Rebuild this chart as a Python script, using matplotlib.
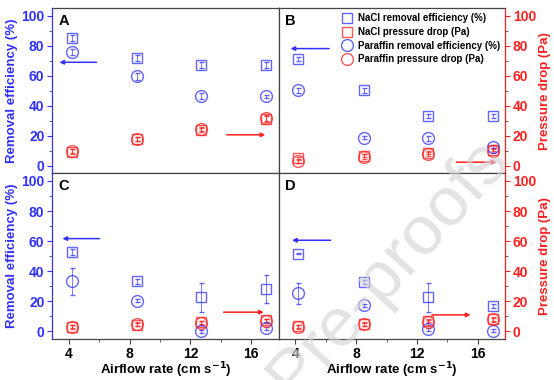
import matplotlib.pyplot as plt
from matplotlib.ticker import MultipleLocator
from matplotlib.lines import Line2D

plt.rcParams['font.family'] = ['Liberation Sans', 'DejaVu Sans']
plt.rcParams['font.weight'] = 'bold'

BLUE = '#3030ff'
RED = '#ff2020'

# airflow rate (cm s-1)
airflow = [4.2, 8.5, 12.7, 17.0]

# panel A
a_nacl_eff = [85, 71.8, 67, 67]
a_nacl_eff_err = [2, 2, 2, 2]
a_nacl_dp = [9.6, 17.8, 24, 31]
a_nacl_dp_err = [1.5, 1.5, 1.5, 2]
a_par_eff = [75.5, 59.5, 46.7, 46.2]
a_par_eff_err = [2, 2.5, 2, 1]
a_par_dp = [10, 18, 24.5, 32]
a_par_dp_err = [1.5, 1.5, 1.5, 2]

# panel B
b_nacl_eff = [71.1, 50.2, 33.3, 33.3]
b_nacl_eff_err = [1.5, 1.5, 1.5, 1.5]
b_nacl_dp = [5, 6.7, 8.9, 10.7]
b_nacl_dp_err = [1, 1, 1, 1]
b_par_eff = [50.2, 18.9, 18.4, 12.9]
b_par_eff_err = [1.5, 1, 1.5, 1]
b_par_dp = [3.3, 6.2, 7.8, 10]
b_par_dp_err = [1.5, 1.5, 1.5, 1.5]

# panel C
c_nacl_eff = [53.1, 33.2, 22.6, 28.1]
c_nacl_eff_err = [2, 1.5, 9.4, 9.4]
c_nacl_dp = [3.1, 4.6, 6, 7.5]
c_nacl_dp_err = [1, 1, 1, 1]
c_par_eff = [33.2, 20.3, 0.2, 2]
c_par_eff_err = [8.8, 1, 1, 1]
c_par_dp = [3, 4.8, 5.5, 7]
c_par_dp_err = [1.5, 1.5, 1.5, 1.5]

# panel D
d_nacl_eff = [51.8, 33, 22.6, 17]
d_nacl_eff_err = [0.5, 1.5, 9.5, 1.5]
d_nacl_dp = [3.3, 4.8, 7, 8.2]
d_nacl_dp_err = [1, 1, 1, 1]
d_par_eff = [25.4, 17.5, 1.5, 0.4]
d_par_eff_err = [7, 1, 1, 1]
d_par_dp = [3, 5, 6, 8]
d_par_dp_err = [1.5, 1.5, 1.5, 1.5]

panels = [
    ("A", a_nacl_eff, a_nacl_eff_err, a_nacl_dp, a_nacl_dp_err, a_par_eff, a_par_eff_err, a_par_dp, a_par_dp_err),
    ("B", b_nacl_eff, b_nacl_eff_err, b_nacl_dp, b_nacl_dp_err, b_par_eff, b_par_eff_err, b_par_dp, b_par_dp_err),
    ("C", c_nacl_eff, c_nacl_eff_err, c_nacl_dp, c_nacl_dp_err, c_par_eff, c_par_eff_err, c_par_dp, c_par_dp_err),
    ("D", d_nacl_eff, d_nacl_eff_err, d_nacl_dp, d_nacl_dp_err, d_par_eff, d_par_eff_err, d_par_dp, d_par_dp_err),
]

labels = ["NaCl removal efficiency (%)", "NaCl pressure drop (Pa)",
          "Paraffin removal efficiency (%)", "Paraffin pressure drop (Pa)"]

# arrows: (y, x_start, x_end) for blue (left axis) and red (right axis)
blue_arrows = [(68.9, 6.0, 3.2), (78, 6.4, 3.5), (61.7, 6.2, 3.4), (60.6, 6.5, 3.6)]
red_arrows = [(20.7, 14.2, 17.1), (2.5, 14.4, 17.4), (12.8, 14.0, 17.0), (11, 12.8, 15.7)]

fig = plt.figure(figsize=(5.54, 3.8), dpi=100)
gs = fig.add_gridspec(2, 2, left=0.094, right=0.912, top=0.979, bottom=0.108,
                      wspace=0, hspace=0)

mkw = dict(linestyle='none', markerfacecolor='none',
           markeredgewidth=1.0, capsize=1.8, elinewidth=0.6, capthick=0.6, alpha=0.75)

for i, (letter, ne, nee, nd, nde, pe, pee, pd_, pde) in enumerate(panels):
    ax = fig.add_subplot(gs[i // 2, i % 2])
    ax.errorbar(airflow, ne, yerr=nee, marker='s', markersize=7.5, color=BLUE, **mkw)
    ax.errorbar(airflow, nd, yerr=nde, marker='s', markersize=7.5, color=RED, **mkw)
    ax.errorbar(airflow, pe, yerr=pee, marker='o', markersize=8.5, color=BLUE, **mkw)
    ax.errorbar(airflow, pd_, yerr=pde, marker='o', markersize=8.5, color=RED, **mkw)

    ax.set_xlim(2.9, 17.8)
    ax.set_ylim(-5, 105)
    ax.xaxis.set_major_locator(MultipleLocator(4))
    ax.xaxis.set_minor_locator(MultipleLocator(2))
    ax.yaxis.set_major_locator(MultipleLocator(20))
    ax.yaxis.set_minor_locator(MultipleLocator(10))
    ax.tick_params(which='both', direction='out', labelsize=10, color='#444444', pad=2)
    ax.tick_params(which='major', length=3.5)
    ax.tick_params(which='minor', length=2)
    for s in ax.spines.values():
        s.set_color('#444444')
        s.set_linewidth(0.9)

    ax.text(0.03, 0.965, letter, transform=ax.transAxes, fontsize=10.5, fontweight='bold',
            va='top', ha='left')

    by, bx0, bx1 = blue_arrows[i]
    ax.annotate('', xy=(bx1, by), xytext=(bx0, by),
                arrowprops=dict(arrowstyle='-|>', color=BLUE, lw=1.1, mutation_scale=6))
    ry, rx0, rx1 = red_arrows[i]
    ax.annotate('', xy=(rx1, ry), xytext=(rx0, ry),
                arrowprops=dict(arrowstyle='-|>', color=RED, lw=1.1, mutation_scale=6))

    if i % 2 == 0:
        ax.spines['left'].set_color(BLUE)
        ax.tick_params(axis='y', colors=BLUE, labelcolor=BLUE)
        ax.set_ylabel("Removal efficiency (%)", color=BLUE, fontsize=9.5, fontweight='bold', labelpad=2)
    else:
        ax.yaxis.tick_right()
        ax.yaxis.set_label_position('right')
        ax.spines['right'].set_color(RED)
        ax.tick_params(axis='y', colors=RED, labelcolor=RED)
        ax.set_ylabel("Pressure drop (Pa)", color=RED, fontsize=9.5, fontweight='bold', labelpad=2)
    if i < 2:
        ax.tick_params(axis='x', labelbottom=False)
    else:
        ax.set_xlabel("Airflow rate (cm s$^{\\mathbf{-1}}$)", fontsize=9.5, fontweight='bold', labelpad=0)

    if letter == "B":
        handles = [Line2D([], [], linestyle='none', marker=m, markersize=sz, markerfacecolor='none',
                          markeredgewidth=1.0, color=c, alpha=0.75)
                   for m, sz, c in [('s', 7.5, BLUE), ('s', 7.5, RED), ('o', 8.5, BLUE), ('o', 8.5, RED)]]
        ax.legend(handles, labels, loc='upper right', frameon=False, fontsize=7, handletextpad=0.5,
                  borderaxespad=0.15, labelspacing=0.38, handlelength=1.2,
                  bbox_to_anchor=(1.0, 1.0))

fig.text(0.700, 0.295, "Pre-proofs", rotation=48, fontsize=50, fontweight='normal',
         color='#d4d4d4', alpha=0.65, ha='center', va='center', zorder=5)

plt.savefig("out.png", dpi=100)
